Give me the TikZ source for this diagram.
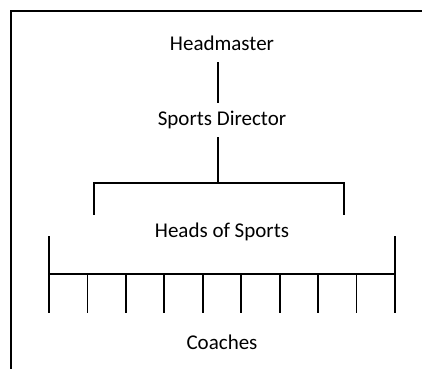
\documentclass[tikz,border=0pt]{standalone}
\usepackage{fontspec}
\setmainfont{Carlito}
\usetikzlibrary{calc}
\tikzset{
  rank/.style={font=\fontsize{21}{25}\selectfont, inner xsep=2pt, inner ysep=8pt,
    text height=14pt, text depth=4pt},
  link/.style={line width=1.8pt}
}
\begin{document}
\begin{tikzpicture}[x=1pt, y=-1pt]
    \useasboundingbox (0, 0) rectangle (422, 369);
    % Cadre
    \draw[link] (422, 11) -- (11, 11) -- (11, 369);

    % Niveaux
    \node[rank] (head) at (222, 45) {Headmaster};
    \node[rank] (dir) at (222, 120) {Sports Director};
    \node[rank] (hos) at (222, 232) {Heads of Sports};
    \node[rank] (coach) at (222, 344) {Coaches};

    % Headmaster -- Sports Director
    \draw[link] ([xshift=-4pt]head.south) -- ([xshift=-4pt]dir.north);

    % Accolade des responsables
    \coordinate (bl) at (94, 183);
    \coordinate (br) at (344, 183);
    \draw[link] ([xshift=-4pt]dir.south) -- ([xshift=-4pt]dir.south |- bl);
    \draw[link] (bl |- hos.north) -- (bl) -- (br) -- (br |- hos.north);

    % Peigne des entraineurs
    \coordinate (cl) at (49, 274);
    \coordinate (cr) at (395, 274);
    \draw[link] (cl) -- (cr);
    \draw[link] (49, 236) -- (49, 274);
    \draw[link] (395, 236) -- (395, 274);
    \foreach \i in {0,...,9}
        \draw[link] ($(cl)!\i/9!(cr)$) -- ++(0, 39);
\end{tikzpicture}
\end{document}
